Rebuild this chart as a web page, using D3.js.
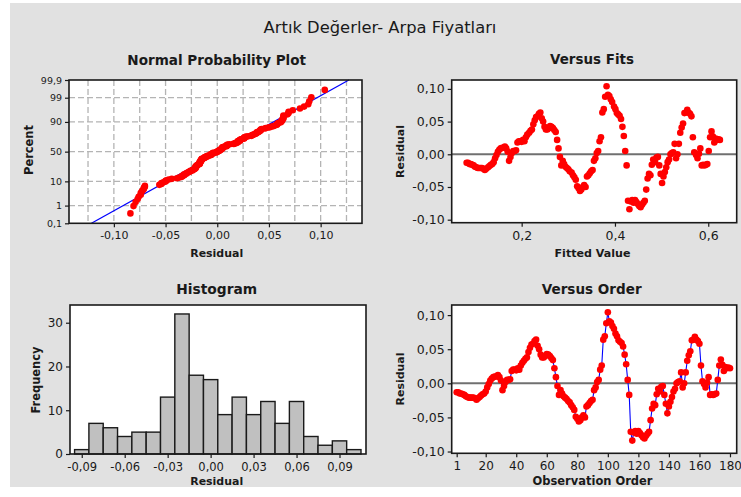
<!DOCTYPE html>
<html>
<head>
<meta charset="utf-8">
<script src="https://cdn.jsdelivr.net/npm/d3@7"></script>
<style>
  body { margin: 0; background: #ffffff; }
  text { font-family: "DejaVu Sans", Verdana, sans-serif; }
</style>
</head>
<body>
<svg id="chart" width="741" height="497"></svg>
<script>
// Residuals of the trend model, in observation order (1..180)
const residuals = [
  -0.013, -0.013, -0.015, -0.015, -0.016, -0.017, -0.019, -0.020, -0.021, -0.021,
  -0.021, -0.021, -0.022, -0.024, -0.022, -0.020, -0.018, -0.016, -0.015, -0.012,
  -0.006, -0.001, 0.004, 0.007, 0.009, 0.010, 0.010, 0.012, 0.009, 0.004,
  -0.010, -0.004, 0.002, 0.005, 0.005, 0.006, 0.018, 0.020, 0.020, 0.019,
  0.022, 0.020, 0.026, 0.030, 0.033, 0.036, 0.038, 0.046, 0.052, 0.057,
  0.058, 0.062, 0.064, 0.055, 0.050, 0.042, 0.038, 0.038, 0.040, 0.043,
  0.042, 0.040, 0.037, 0.034, 0.022, 0.009, -0.004, -0.017, -0.010, -0.015,
  -0.019, -0.021, -0.023, -0.026, -0.028, -0.032, -0.035, -0.039, -0.049, -0.052,
  -0.056, -0.054, -0.050, -0.047, -0.050, -0.034, -0.032, -0.029, -0.026, -0.024,
  -0.010, -0.006, 0.002, 0.005, 0.020, 0.026, 0.064, 0.069, 0.088, 0.104,
  0.091, 0.089, 0.084, 0.080, 0.073, 0.069, 0.063, 0.061, 0.059, 0.054,
  0.042, 0.028, 0.005, -0.017, -0.071, -0.084, -0.072, -0.070, -0.074, -0.070,
  -0.073, -0.076, -0.079, -0.081, -0.077, -0.074, -0.071, -0.054, -0.037, -0.030,
  -0.032, -0.016, -0.008, -0.012, -0.005, -0.004, -0.017, -0.030, -0.044, -0.034,
  -0.027, -0.020, -0.012, -0.008, 0.000, 0.002, 0.003, 0.016, -0.006, 0.000,
  0.016, 0.033, 0.041, 0.047, 0.063, 0.064, 0.068, 0.064, 0.062, 0.058,
  0.026, 0.003, -0.001, -0.006, 0.001, 0.009, -0.017, -0.016, -0.017, -0.016,
  -0.015, 0.005, 0.026, 0.035, 0.027, 0.018, 0.024, 0.022, 0.023, 0.022
];

// Fitted values of the trend model, same order
const fittedValues = [
  0.082, 0.085, 0.088, 0.091, 0.094, 0.097, 0.100, 0.103, 0.106, 0.109,
  0.112, 0.115, 0.118, 0.121, 0.124, 0.128, 0.131, 0.134, 0.137, 0.140,
  0.143, 0.146, 0.149, 0.152, 0.155, 0.158, 0.161, 0.164, 0.167, 0.170,
  0.173, 0.176, 0.179, 0.182, 0.185, 0.188, 0.191, 0.194, 0.197, 0.200,
  0.203, 0.206, 0.209, 0.212, 0.216, 0.219, 0.222, 0.225, 0.228, 0.231,
  0.234, 0.237, 0.240, 0.243, 0.246, 0.249, 0.252, 0.255, 0.258, 0.261,
  0.264, 0.267, 0.270, 0.273, 0.276, 0.279, 0.282, 0.285, 0.288, 0.291,
  0.294, 0.297, 0.300, 0.303, 0.307, 0.310, 0.313, 0.316, 0.319, 0.322,
  0.325, 0.328, 0.331, 0.334, 0.337, 0.340, 0.343, 0.346, 0.349, 0.352,
  0.355, 0.358, 0.361, 0.364, 0.367, 0.370, 0.373, 0.376, 0.379, 0.382,
  0.385, 0.388, 0.391, 0.394, 0.398, 0.401, 0.404, 0.407, 0.410, 0.413,
  0.416, 0.419, 0.422, 0.425, 0.428, 0.431, 0.434, 0.437, 0.440, 0.443,
  0.446, 0.449, 0.452, 0.455, 0.458, 0.461, 0.464, 0.467, 0.470, 0.473,
  0.476, 0.479, 0.482, 0.486, 0.489, 0.492, 0.495, 0.498, 0.501, 0.504,
  0.507, 0.510, 0.513, 0.516, 0.519, 0.522, 0.525, 0.528, 0.531, 0.534,
  0.537, 0.540, 0.543, 0.546, 0.549, 0.552, 0.555, 0.558, 0.561, 0.564,
  0.567, 0.570, 0.574, 0.577, 0.580, 0.583, 0.586, 0.589, 0.592, 0.595,
  0.598, 0.601, 0.604, 0.607, 0.610, 0.613, 0.616, 0.619, 0.622, 0.625
];

// Histogram of residuals: bin midpoints (width 0,01) and frequencies
const histMidpoints = [-0.09, -0.08, -0.07, -0.06, -0.05, -0.04, -0.03, -0.02, -0.01, 0.00,
                       0.01, 0.02, 0.03, 0.04, 0.05, 0.06, 0.07, 0.08, 0.09, 0.10];
const histCounts = [1, 7, 6, 4, 5, 5, 13, 32, 18, 17, 9, 13, 9, 12, 7, 12, 4, 2, 3, 1];

// Tick values
const percentTicks = [0.1, 1, 10, 50, 90, 99, 99.9];
const nppResidualTicks = [-0.10, -0.05, 0.00, 0.05, 0.10];
const nppGridTicks = [-0.125, -0.10, -0.075, -0.05, -0.025, 0, 0.025, 0.05, 0.075, 0.10, 0.125];
const residualTicks = [-0.10, -0.05, 0.00, 0.05, 0.10];
const fitTicks = [0.2, 0.4, 0.6];
const histResidualTicks = [-0.09, -0.06, -0.03, 0.00, 0.03, 0.06, 0.09];
const freqTicks = [0, 10, 20, 30];
const orderTicks = [1, 20, 40, 60, 80, 100, 120, 140, 160, 180];

const mainTitle = "Artık Değerler- Arpa Fiyatları";

// Decimal comma formatting
const loc = d3.formatLocale({decimal: ",", thousands: ".", grouping: [3], currency: ["", ""], minus: "-"});
const fmt2 = loc.format(".2f");
const fmt1 = loc.format(".1f");
const fmtPct = loc.format("~f");

// Inverse standard normal CDF (Acklam's rational approximation)
function qnorm(p) {
  const a = [-3.969683028665376e+01, 2.209460984245205e+02, -2.759285104469687e+02,
             1.383577518672690e+02, -3.066479806614716e+01, 2.506628277459239e+00];
  const b = [-5.447609879822406e+01, 1.615858368580409e+02, -1.556989798598866e+02,
             6.680131188771972e+01, -1.328068155288572e+01];
  const c = [-7.784894002430293e-03, -3.223964580411365e-01, -2.400758277161838e+00,
             -2.549671010615310e+00, 4.374664141464968e+00, 2.938163982698783e+00];
  const d = [7.784695709041462e-03, 3.224671290700398e-01, 2.445134137142996e+00,
             3.754408661907416e+00];
  const pl = 0.02425, ph = 1 - pl;
  let q, r;
  if (p < pl) {
    q = Math.sqrt(-2 * Math.log(p));
    return (((((c[0]*q+c[1])*q+c[2])*q+c[3])*q+c[4])*q+c[5]) / ((((d[0]*q+d[1])*q+d[2])*q+d[3])*q+1);
  } else if (p <= ph) {
    q = p - 0.5; r = q * q;
    return (((((a[0]*r+a[1])*r+a[2])*r+a[3])*r+a[4])*r+a[5])*q / (((((b[0]*r+b[1])*r+b[2])*r+b[3])*r+b[4])*r+1);
  } else {
    q = Math.sqrt(-2 * Math.log(1 - p));
    return -(((((c[0]*q+c[1])*q+c[2])*q+c[3])*q+c[4])*q+c[5]) / ((((d[0]*q+d[1])*q+d[2])*q+d[3])*q+1);
  }
}

const svg = d3.select("#chart");
const INK = "#1a1a1a";
const RED = "#ff0000";

// Panel background
svg.append("rect").attr("x", 10).attr("y", 3).attr("width", 731).attr("height", 484).attr("fill", "#e1e1e1");

// Text helper: bold/normal label, optionally rotated, fitted to a target width
function label(text, x, y, opts) {
  const o = Object.assign({size: 12, weight: "bold", rotate: false, width: null}, opts);
  const t = svg.append("text")
    .attr("text-anchor", "middle")
    .attr("font-size", o.size)
    .attr("font-weight", o.weight)
    .attr("fill", INK)
    .text(text);
  if (o.rotate) t.attr("transform", `translate(${x},${y}) rotate(-90)`).attr("dy", "0.36em");
  else t.attr("x", x).attr("y", y);
  if (o.width) {
    const len = t.node().getComputedTextLength();
    if (len > 0) t.attr("font-size", o.size * o.width / len);
  }
  return t;
}

function styleAxis(g, size) {
  g.select(".domain").remove();
  g.selectAll(".tick line").attr("stroke", INK).attr("stroke-width", 1.2);
  g.selectAll(".tick text").attr("fill", INK).attr("font-size", size)
    .attr("font-family", "DejaVu Sans, Verdana, sans-serif");
}

function frame(x0, y0, x1, y1) {
  svg.append("rect").attr("x", x0).attr("y", y0).attr("width", x1 - x0).attr("height", y1 - y0)
    .attr("fill", "none").attr("stroke", INK).attr("stroke-width", 1.6);
}
function plotBg(x0, y0, x1, y1) {
  svg.append("rect").attr("x", x0).attr("y", y0).attr("width", x1 - x0).attr("height", y1 - y0)
    .attr("fill", "#ffffff");
}

// Main title
label(mainTitle, 380, 33, {size: 19, weight: "normal", width: 233});

// ---------- Normal Probability Plot ----------
{
  const L = 69, T = 80, R = 362, B = 223.3;
  const zMax = qnorm(0.999);
  const x = d3.scaleLinear().domain([-0.1434, 0.140]).range([L, R]);
  const y = d3.scaleLinear().domain([-zMax, zMax]).range([B, T]);
  plotBg(L, T, R, B);

  const grid = svg.append("g").attr("stroke", "#b4b4b4").attr("stroke-width", 1.3).attr("stroke-dasharray", "6,3");
  grid.selectAll(".gv").data(nppGridTicks).join("line")
    .attr("x1", d => x(d)).attr("x2", d => x(d)).attr("y1", T).attr("y2", B);
  grid.selectAll(".gh").data(percentTicks.slice(1, -1)).join("line")
    .attr("x1", L).attr("x2", R).attr("y1", d => y(qnorm(d / 100))).attr("y2", d => y(qnorm(d / 100)));

  // Fitted normal reference line
  const n = residuals.length;
  const mu = d3.mean(residuals), sd = d3.deviation(residuals);
  svg.append("line")
    .attr("x1", x(mu - sd * zMax)).attr("y1", y(-zMax))
    .attr("x2", x(mu + sd * zMax)).attr("y2", y(zMax))
    .attr("stroke", "#0000ff").attr("stroke-width", 1.2);

  const sorted = residuals.slice().sort(d3.ascending);
  svg.append("g").selectAll("circle").data(sorted).join("circle")
    .attr("cx", d => x(d))
    .attr("cy", (d, i) => y(qnorm((i + 1 - 0.3) / (n + 0.4))))
    .attr("r", 3.3).attr("fill", RED);

  frame(L, T, R, B);
  const gx = svg.append("g").attr("transform", `translate(0,${B})`)
    .call(d3.axisBottom(x).tickValues(nppResidualTicks).tickFormat(fmt2).tickSize(4).tickPadding(4));
  styleAxis(gx, 11);
  const gy = svg.append("g").attr("transform", `translate(${L},0)`)
    .call(d3.axisLeft(y).tickValues(percentTicks.map(p => qnorm(p / 100)))
      .tickFormat((d, i) => fmtPct(percentTicks[i])).tickSize(4).tickPadding(3));
  styleAxis(gy, 9.5);

  label("Normal Probability Plot", 216.7, 65, {size: 14, width: 179});
  label("Residual", 216.7, 257, {size: 11, width: 53});
  label("Percent", 28.5, 150, {size: 11, rotate: true, width: 50});
}

// ---------- Versus Fits ----------
{
  const L = 451.7, T = 80, R = 736.7, B = 222.7;
  const x = d3.scaleLinear().domain([0.05, 0.661]).range([L, R]);
  const y = d3.scaleLinear().domain([-0.1046, 0.1136]).range([B, T]);
  plotBg(L, T, R, B);
  svg.append("line").attr("x1", L).attr("x2", R).attr("y1", y(0)).attr("y2", y(0))
    .attr("stroke", "#707070").attr("stroke-width", 2);
  svg.append("g").selectAll("circle").data(residuals).join("circle")
    .attr("cx", (d, i) => x(fittedValues[i])).attr("cy", d => y(d))
    .attr("r", 3.3).attr("fill", RED);
  frame(L, T, R, B);
  const gx = svg.append("g").attr("transform", `translate(0,${B})`)
    .call(d3.axisBottom(x).tickValues(fitTicks).tickFormat(fmt1).tickSize(4).tickPadding(4));
  styleAxis(gx, 12.5);
  const gy = svg.append("g").attr("transform", `translate(${L},0)`)
    .call(d3.axisLeft(y).tickValues(residualTicks).tickFormat(fmt2).tickSize(4).tickPadding(3));
  styleAxis(gy, 12.5);

  label("Versus Fits", 592, 64, {size: 14, width: 84});
  label("Fitted Value", 592.5, 257, {size: 11, width: 76});
  label("Residual", 400, 151.5, {size: 11, rotate: true, width: 53});
}

// ---------- Histogram ----------
{
  const L = 70, T = 305, R = 366, B = 454;
  const x = d3.scaleLinear().domain([-0.0982, 0.1085]).range([L, R]);
  const y = d3.scaleLinear().domain([0, 34.05]).range([B, T]);
  plotBg(L, T, R, B);
  const half = 0.005;
  svg.append("g").selectAll("rect").data(histCounts).join("rect")
    .attr("x", (d, i) => x(histMidpoints[i] - half))
    .attr("width", (d, i) => x(histMidpoints[i] + half) - x(histMidpoints[i] - half))
    .attr("y", d => y(d)).attr("height", d => y(0) - y(d))
    .attr("fill", "#c0c0c0").attr("stroke", INK).attr("stroke-width", 1.4);
  frame(L, T, R, B);
  const gx = svg.append("g").attr("transform", `translate(0,${B})`)
    .call(d3.axisBottom(x).tickValues(histResidualTicks).tickFormat(fmt2).tickSize(4).tickPadding(5));
  styleAxis(gx, 11.5);
  const gy = svg.append("g").attr("transform", `translate(${L},0)`)
    .call(d3.axisLeft(y).tickValues(freqTicks).tickFormat(d3.format("d")).tickSize(4).tickPadding(3));
  styleAxis(gy, 12);

  label("Histogram", 216.7, 294.3, {size: 14, width: 81});
  label("Residual", 216.7, 485, {size: 11, width: 53});
  label("Frequency", 36, 380, {size: 11, rotate: true, width: 67});
}

// ---------- Versus Order ----------
{
  const L = 451.7, T = 305, R = 736.7, B = 453.3;
  const x = d3.scaleLinear().domain([-2.27, 184.4]).range([L, R]);
  const y = d3.scaleLinear().domain([-0.1026, 0.1148]).range([B, T]);
  plotBg(L, T, R, B);
  svg.append("line").attr("x1", L).attr("x2", R).attr("y1", y(0)).attr("y2", y(0))
    .attr("stroke", "#707070").attr("stroke-width", 2);
  svg.append("path").datum(residuals)
    .attr("d", d3.line().x((d, i) => x(i + 1)).y(d => y(d)))
    .attr("fill", "none").attr("stroke", "#0000ff").attr("stroke-width", 1.1);
  svg.append("g").selectAll("circle").data(residuals).join("circle")
    .attr("cx", (d, i) => x(i + 1)).attr("cy", d => y(d))
    .attr("r", 3.3).attr("fill", RED);
  frame(L, T, R, B);
  const gx = svg.append("g").attr("transform", `translate(0,${B})`)
    .call(d3.axisBottom(x).tickValues(orderTicks).tickFormat(d3.format("d")).tickSize(4).tickPadding(4));
  styleAxis(gx, 12);
  const gy = svg.append("g").attr("transform", `translate(${L},0)`)
    .call(d3.axisLeft(y).tickValues(residualTicks).tickFormat(fmt2).tickSize(4).tickPadding(3));
  styleAxis(gy, 12.5);

  label("Versus Order", 591.7, 294.3, {size: 14, width: 100});
  label("Observation Order", 592.5, 485, {size: 11, width: 120});
  label("Residual", 400, 379, {size: 11, rotate: true, width: 53});
}
</script>
</body>
</html>
